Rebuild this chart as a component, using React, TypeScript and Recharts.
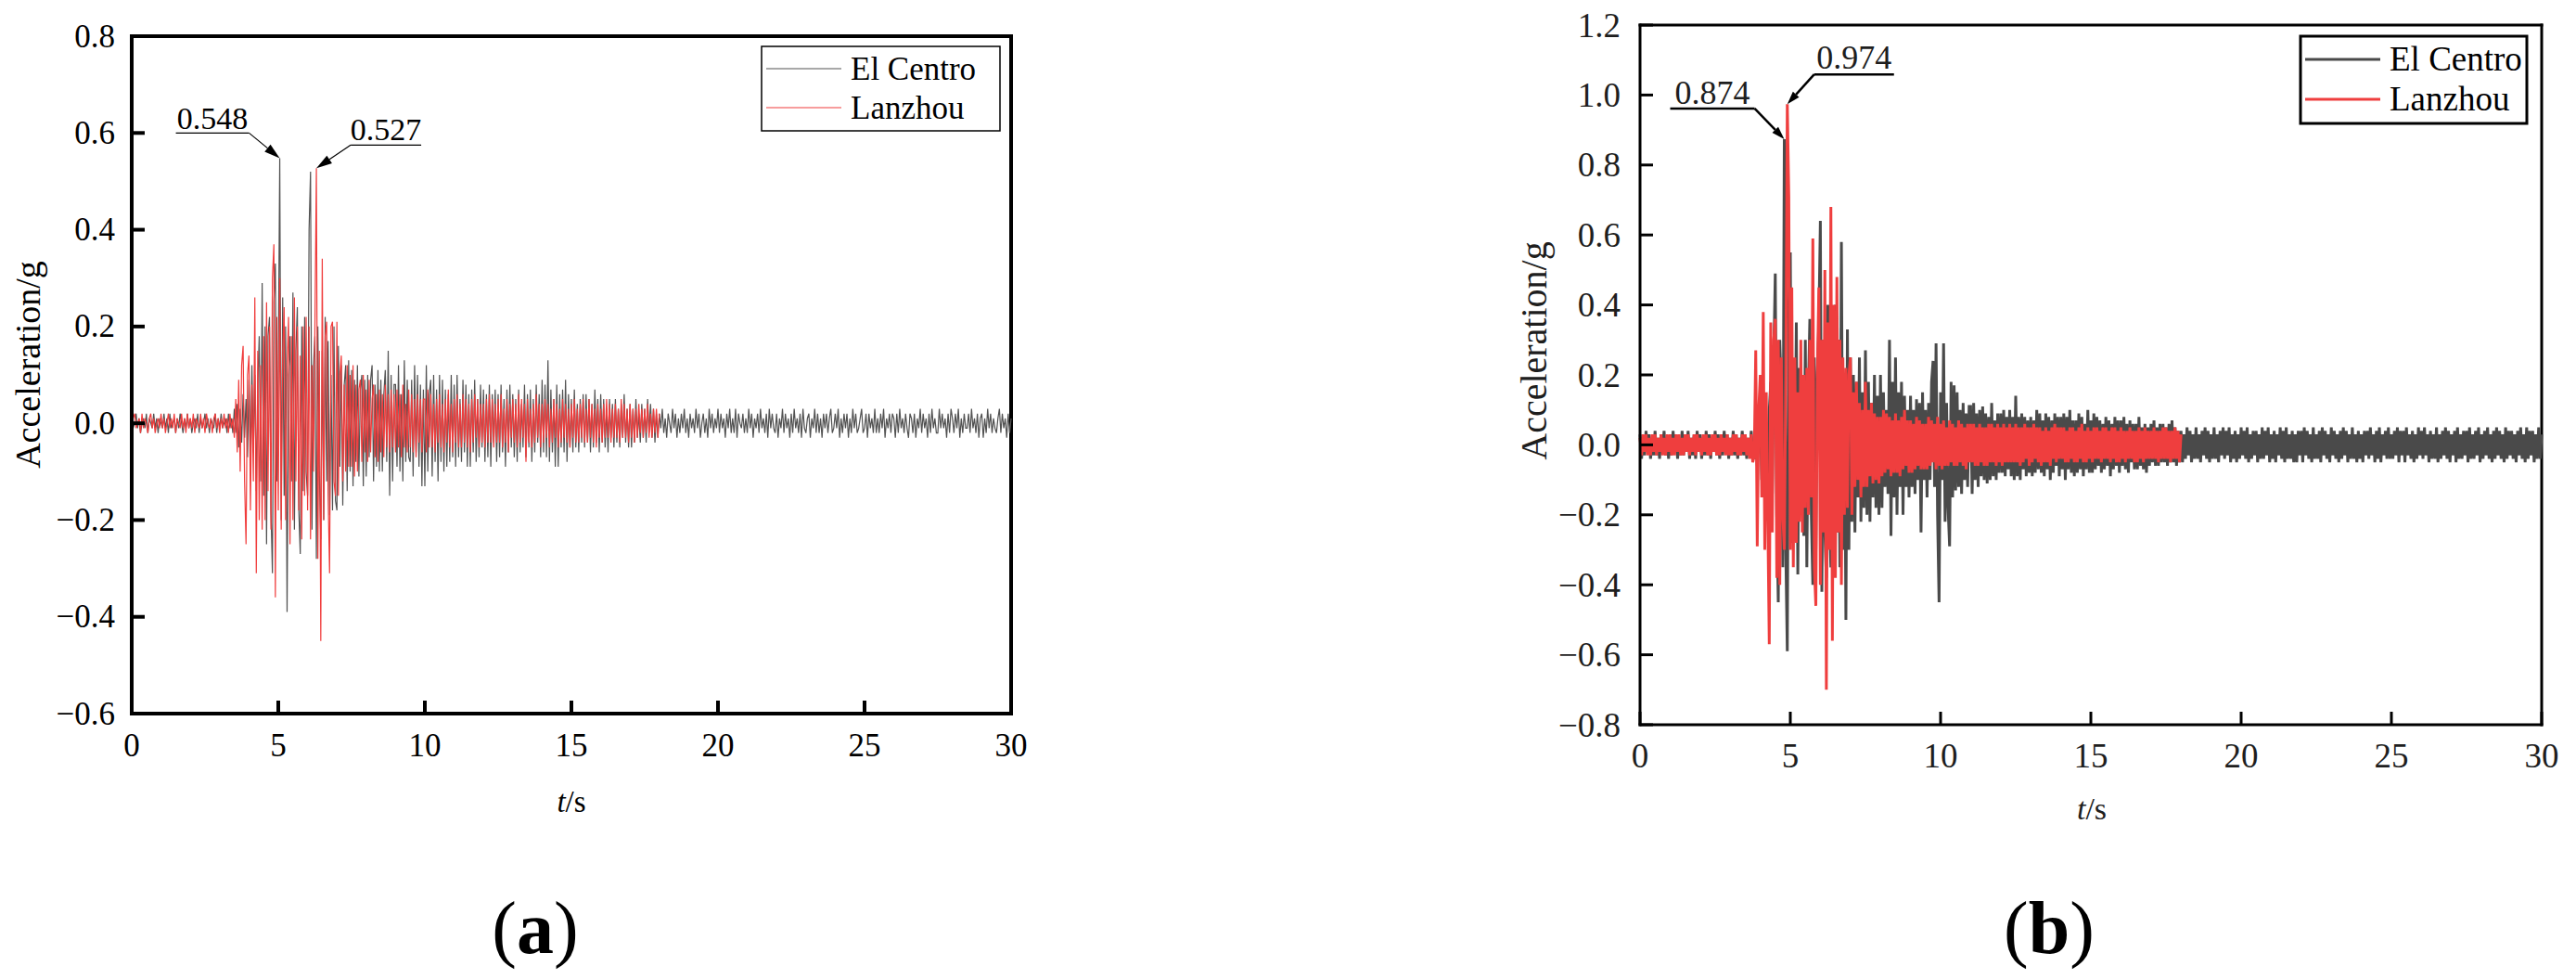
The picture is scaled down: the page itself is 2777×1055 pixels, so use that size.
import React from "react";
import { LineChart, Line, XAxis, YAxis, ReferenceLine, ReferenceDot } from "recharts";

const SERIF = "'Liberation Serif', 'Times New Roman', serif";
const DT = 0.05; // sampling step of the digitised records, s

// accelerations in hundredths of g, one value every 0.05 s
// (a) El Centro, 0 - 30 s
const elCentroA_quiet = [
  1, -1, 0, 2, -1, 1, -2, 0, 1, -1, 2, -2, 1, 0, -1, 2, -1, 1, -2, 1,
  0, -1, 2, -1, 1, -2, 2, -1, 0, 1, -2, 1, -1, 2, 0, -2, 1, -1, 2, -1,
  1, -2, 0, 1, -1, 2, -2, 1, -1, 0, 2, -1, 1, -2, 1, 0, -1, 2, -2, 1,
  -1, 2, -1, 0, 1, -2, 2, -1, 1, -2,
];
const elCentroA_strong = [
  3, -2, 4, -5, 3, -4, 6, -3, 5, -7,
  9, -8, 12, -6, 10, -14, 8, 18, -12, 29,
  -15, 20, -25, 18, 22, -18, -31, 25, 33, -12,
  12, 54.8, -20, 26, -15, 20, -39, 10, 18, -12,
  27, -22, 15, 24, -18, -27, 20, -14, 22, -10,
  -15, 40, 52, -22, 12, 18, -28, 20, -10, -24,
  15, -20, 22, -12, 17, -19, 10, -18, 20, -16,
  -18, 16, -9, 12, -17, 8, 12, -14, 13, -10,
  11, -13, 9, -8, 12, -11, 7, 10, -13, 9,
  -11, 10, -7, 9, 12, -12, 8, -9, 11, -10,
  9, -10, 6, 11, -8, 15, -15, 10, -12, 8,
  8, -9, 12, -10, 6, -12, 13, -8, 9, -7,
  -8, 9, -11, 12, -6, 10, -9, 8, -13, 7,
];
const elCentroA_coda = [
  -13, 12, -10, 6, 9, -11, 10, -8, 7, -12,
  10, -8, 9, -10, 7, -9, 6, -8, 10, -7,
  8, -9, 10, -7, 5, -8, 9, -6, 8, -9,
  6, -9, 7, -6, 9, -8, 5, -7, 8, -5,
  7, -8, 6, -7, 8, -9, 6, -4, 7, -8,
  6, -7, 8, -6, 5, -9, 7, -6, 8, -5,
  6, -7, 5, -8, 7, -6, 4, -5, 8, -7,
  6, -5, 7, -8, 5, -6, 8, -4, 6, -7,
  9, -6, 8, -7, 13, -8, 7, -6, 5, -9,
  8, -9, 6, -5, 7, -6, 9, -8, 6, -5,
  5, -6, 7, -5, 4, -6, 5, -4, 6, -5,
  6, -4, 5, -6, 4, -5, 7, -4, 5, -6,
  6, -4, 5, -5, 3, -6, 5, -3, 4, -5,
  5, -4, 3, -5, 4, -3, 6, -4, 3, -5,
  4, -5, 3, -4, 5, -3, 2, -4, 4, -3,
  3, -4, 5, -2, 4, -3, 3, -4, 2, -3,
];
const elCentroA_tail = [
  2, -1, 3, -2, 1, -3, 2, 0, -2, 3, -1, 2, -3, 1, -2, 2, -1, 3, -2, 1,
  -3, 2, -1, 1, -2, 3, -1, 2, -3, 0, 2, -2, 1, -3, 3, -1, 2, -2, 1, -1,
  3, -2, 2, -1, 1, -3, 2, -1, 3, -2, 1, -2, 3, -3, 2, 0, -1, 2, -2, 1,
  -2, 3, -1, 2, -3, 1, -1, 2, -2, 3, -1, 1, -2, 2, -3, 3, -1, 2, -1, -2,
  2, -3, 1, -1, 3, -2, 2, -1, 1, -3, 2, -2, 3, -1, 1, -2, 2, -3, 3, -1,
  -2, 1, 2, -3, 1, -1, 3, -2, 2, -2, 1, -3, 2, -1, 2, -2, 1, 3, -2, -1,
  2, -1, 3, -3, 1, -2, 2, -1, 2, -3, 1, -2, 3, -1, 2, -2, -1, 1, 3, -2,
  -1, 2, -3, 2, -1, 1, -2, 3, -2, 1, -2, 2, -1, 3, -3, 1, -1, 2, -2, 2,
  1, -3, 2, -2, 3, -1, 1, -2, 2, -1, -3, 2, 1, -2, 2, -3, 1, -1, 3, -2,
  2, -1, 1, -3, 2, -2, 3, -1, 1, -2, -2, 3, -1, 2, -1, 1, -3, 2, -2, 3,
  1, -2, 2, -1, 3, -3, 1, -2, 2, -1, -1, 2, -2, 3, -1, 1, -2, 2, -3, 1,
  2, -3, 1, -2, 3, -1, 2, -2, 1, -1, -2, 1, 3, -2, 2, -1, 1, -3, 2, -2,
  1,
];

// (a) Lanzhou, 0 - 18 s
const lanzhouA_quiet = [
  -1, 1, 2, -1, 0, 1, -2, 2, -1, 1, 0, -2, 1, 2, -1, 1, -2, 0, 1, -1,
  2, -1, 1, -2, 0, 2, -1, 1, -1, 2, -2, 1, 0, -1, 2, -1, 1, -2, 2, -1,
  1, -1, 2, -2, 1, 0, -1, 2, -1, 1, -2, 2, 0, -1, 1, -2, 1, 2, -1, 1,
  -2, 1, -1, 2, -1, 1, -2, 2, -1, 1,
];
const lanzhouA_strong = [
  -3, 5, -6, 9, -10, 12, 16, -12, -25, 10,
  14, -18, 8, -12, 26, -31, 15, -20, 12, -22,
  18, -20, 25, -14, 20, -22, 30, 37, -36, 22,
  -18, 30, -22, 15, 24, -20, 12, 22, -25, 18,
  -20, 26, -12, 20, -18, 14, -24, 20, -15, 22,
  -18, 20, -24, 12, -10, 20, 52.7, -28, 15, -45,
  34, -20, 18, 21, -15, -31, 20, 21, -12, -15,
  21, -15, 10, 14, -12, 8, -10, 12, -9, 10,
  -9, 12, -11, 8, -10, 7, 9, -8, 10, -6,
  7, -8, 9, -6, 5, 8, -7, 6, -8, 7,
  -6, 6, -7, 8, -5, 6, -6, 7, -5, 6,
  -6, 7, -5, 6, -7, 8, -5, 4, -6, 7,
  -5, 6, -6, 5, -7, 6, -4, 5, -6, 5,
];
const lanzhouA_coda = [
  5, -6, 7, -5, 6, -5, 4, -6, 5, -4,
  6, -5, 4, -6, 5, -4, 7, -5, 4, -6,
  5, -4, 6, -5, 4, -5, 6, -4, 5, -5,
  4, -6, 5, -4, 6, -3, 5, -5, 4, -4,
  4, -5, 5, -4, 6, -4, 5, -5, 4, -4,
  5, -4, 6, -5, 3, -4, 5, -6, 4, -3,
  5, -4, 4, -5, 6, -4, 5, -3, 4, -8,
  5, -4, 3, -5, 4, -4, 6, -3, 4, -5,
  4, -4, 5, -3, 4, -5, 3, -4, 5, -3,
  4, -5, 3, -4, 5, -3, 4, -4, 3, -5,
  4, -3, 5, -4, 3, -4, 4, -3, 5, -4,
  3, -4, 5, -3, 4, -4, 3, -5, 4, -3,
  3, -4, 4, -3, 5, -3, 4, -4, 3, -3,
  4, -3, 3, -4, 5, -3, 4, -3, 3, -4,
  4, -3, 3, -4, 3, -3, 4, -2, 3, -3,
  3, -2, 4, -3, 2, -3, 3, -2, 3, -3,
  2,
];

// (b) El Centro, 0 - 30 s
const elCentroB_quiet = [
  3, -4, 2, -3, 4, -2, 3, -4, 1, -3, 4, -3, 2, -4, 3, -2, 4, -3, 2, -4,
  3, -3, 4, -2, 3, -4, 2, -3, 4, -3, 3, -2, 4, -4, 2, -3, 3, -4, 4, -2,
  3, -4, 2, -3, 4, -3, 3, -4, 2, -2, 4, -3, 3, -4, 2, -3, 4, -2, 3, -4,
  2, -3, 4, -3, 3, -4, 2, -3, 4, -3,
];
const elCentroB_strong = [
  3, -4, 2, -3, 4, -3, -4, 5, -6, 4,
  8, -10, 6, 12, -8, -16, 10, 18, -14, 25,
  49, -20, -45, 30, 15, -35, 87.4, -30, -59, 40,
  55, -28, 20, -15, 35, -37, 22, -20, 18, -26,
  30, -35, 15, 36, -20, -40, 25, -30, 20, 35,
  64, -42, 30, -25, -38, 40, -20, -35, 25, -30,
  40, -25, 30, -35, 58, -30, 20, -50, 33, -30,
  25, -22, 20, -25, 18, -15, 25, -22, 15, -18,
  27, -20, 18, -22, 12, -15, 20, -18, 14, -20,
  20, -18, 15, -12, 10, -14, 30, -26, 18, -15,
  25, -20, 15, -12, 18, -20, 14, -12, 10, -15,
  14, -12, 10, -14, 13, -10, 12, -25, 15, -10,
  10, -15, 12, -10, 18, 24, -12, 29, -20, -45,
];
const elCentroB_coda = [
  15, -10, 29, -22, 12, -18, -29, 18, -15, 17,
  -13, 15, -12, 10, -14, 12, -10, 9, -12, 11,
  11, -14, 12, -10, 9, -12, 10, -9, 11, -10,
  9, -11, 8, -10, 12, -9, 7, -10, 9, -8,
  9, -8, 10, -9, 8, -7, 10, -9, 8, -10,
  14, -9, 8, -10, 9, -7, 8, -9, 7, -8,
  8, -9, 7, -8, 10, -7, 9, -8, 7, -9,
  9, -7, 8, -10, 7, -8, 9, -6, 8, -9,
  8, -7, 9, -10, 8, -7, 10, -8, 7, -9,
  7, -8, 9, -7, 8, -9, 6, -7, 10, -8,
  7, -8, 9, -7, 8, -6, 7, -8, 6, -7,
  8, -6, 7, -9, 6, -7, 8, -6, 7, -8,
  7, -6, 8, -7, 6, -8, 7, -5, 6, -7,
  6, -7, 8, -6, 5, -7, 6, -8, 5, -6,
  6, -5, 7, -6, 5, -6, 6, -5, 6, -5,
  5, -6, 6, -5, 7, -5, 5, -6, 4, -5,
];
const elCentroB_tail = [
  4, -5, 3, -4, 5, -3, 4, -5, 3, -4, 5, -4, 3, -5, 4, -3, 5, -4, 4, -5,
  3, -4, 5, -4, 3, -5, 4, -3, 5, -4, 4, -3, 5, -5, 3, -4, 4, -5, 3, -4,
  5, -3, 4, -4, 5, -5, 3, -4, 4, -3, 4, -5, 3, -4, 5, -4, 4, -3, 5, -5,
  3, -4, 4, -5, 3, -3, 5, -4, 4, -5, 5, -4, 3, -4, 4, -5, 3, -5, 4, -3,
  4, -5, 5, -3, 4, -4, 3, -5, 5, -4, 3, -4, 4, -5, 5, -3, 4, -4, 3, -5,
  5, -3, 4, -4, 3, -5, 4, -4, 5, -3, 4, -5, 3, -4, 5, -4, 3, -5, 4, -4,
  3, -5, 4, -3, 4, -4, 5, -3, 3, -5, 4, -4, 5, -5, 3, -3, 4, -4, 5, -4,
  3, -4, 4, -3, 5, -5, 4, -3, 4, -5, 5, -3, 3, -4, 4, -5, 3, -4, 5, -3,
  4, -4, 5, -3, 3, -5, 4, -4, 3, -4, 5, -5, 3, -4, 4, -3, 5, -4, 4, -5,
  3, -3, 4, -5, 5, -4, 3, -4, 4, -3, 4, -5, 5, -4, 3, -4, 4, -3, 5, -5,
  3, -4, 4, -3, 5, -4, 3, -5, 4, -4, 5, -3, 4, -4, 3, -5, 5, -4, 4, -3,
  4, -4, 3, -5, 4, -3, 5, -4, 3, -5, 5, -4, 4, -3, 4, -5, 3, -4, 5, -4,
  3,
];

// (b) Lanzhou, 0 - 18 s
const lanzhouB_quiet = [
  2, -3, 3, -2, 3, -3, 2, -3, 3, -2, 3, -3, 2, -2, 3, -3, 2, -3, 3, -2,
  3, -3, 2, -3, 3, -2, 3, -3, 2, -3, 3, -2, 3, -3, 2, -2, 3, -3, 3, -2,
  2, -3, 3, -2, 3, -3, 2, -3, 3, -2, 3, -3, 2, -3, 3, -2, 2, -3, 3, -3,
  2, -3, 3, -2, 3, -3, 2, -3, 3, -2,
];
const lanzhouB_strong = [
  3, -3, 2, -4, 3, -5, -3, 27, -29, 10,
  20, -15, 38, -30, 15, -20, -57, 35, -25, 30,
  36, -38, 30, -40, 25, -20, -30, 20, 97.4, 71,
  -30, 45, -35, 25, -28, 15, -22, 30, -25, 20,
  -18, 22, -20, 30, -15, 59, -35, -46, 20, 45,
  -40, 30, -25, 50, -70, 35, -30, 68, -56, 40,
  -38, 48, -25, 30, -40, 25, -20, 22, -18, 20,
  25, -20, 15, -12, 18, -10, 12, -15, 10, -12,
  18, -12, 10, -9, 12, -11, 9, -10, 8, -11,
  8, -9, 10, -8, 9, -7, 8, -9, 7, -8,
  9, -8, 7, -9, 8, -7, 10, -6, 7, -8,
  7, -8, 6, -7, 8, -6, 7, -7, 6, -7,
  6, -7, 8, -6, 7, -5, 6, -7, 8, -6,
];
const lanzhouB_coda = [
  6, -7, 7, -6, 5, -6, 7, -5, 6, -6,
  5, -6, 7, -5, 6, -6, 5, -7, 6, -5,
  6, -5, 6, -6, 5, -6, 6, -5, 5, -6,
  5, -6, 6, -5, 6, -5, 5, -6, 6, -5,
  5, -6, 6, -5, 5, -5, 6, -5, 5, -5,
  6, -5, 5, -6, 5, -5, 6, -4, 5, -6,
  5, -5, 6, -4, 5, -5, 5, -6, 4, -5,
  5, -5, 4, -6, 5, -4, 6, -5, 5, -4,
  5, -4, 5, -5, 4, -5, 5, -4, 5, -5,
  4, -5, 5, -4, 6, -5, 4, -5, 5, -4,
  4, -5, 5, -4, 5, -4, 4, -5, 5, -4,
  5, -4, 4, -5, 5, -4, 5, -5, 4, -5,
  5, -4, 4, -5, 4, -4, 5, -4, 4, -5,
  4, -5, 5, -4, 4, -5, 5, -4, 4, -4,
  4, -4, 5, -4, 4, -5, 4, -4, 5, -4,
  5, -4, 4, -5, 4, -4, 5, -4, 4, -5,
  3,
];

const xTicks = [0, 5, 10, 15, 20, 25, 30];
const yTicksA = [-0.6, -0.4, -0.2, 0, 0.2, 0.4, 0.6, 0.8];
const yTicksB = [-0.8, -0.6, -0.4, -0.2, 0, 0.2, 0.4, 0.6, 0.8, 1.0, 1.2];

type Pt = { t: number; a: number };

const toPoints = (...parts: number[][]): Pt[] =>
  parts.flat().map((v, i) => ({ t: Math.round(i * DT * 100) / 100, a: v / 100 }));

const peakOf = (pts: Pt[]) => pts.reduce((m, p) => (p.a > m.a ? p : m), pts[0]);

const fmtTick = (v: number) => (v < 0 ? "\u2212" : "") + Math.abs(v).toFixed(1);

type Callout = { side: "left" | "right"; lead: [number, number]; under: number; textDy: number };

const CalloutShape = ({ cx, cy, label, c, sw, head, size, color }: any) => {
  const dir = c.side === "left" ? -1 : 1;
  const sx = cx + dir * c.lead[0];
  const sy = cy - c.lead[1];
  const ex = sx + dir * c.under;
  const ang = Math.atan2(cy - sy, cx - sx);
  const bx = cx - head[0] * Math.cos(ang);
  const by = cy - head[0] * Math.sin(ang);
  const px = (-Math.sin(ang) * head[1]) / 2;
  const py = (Math.cos(ang) * head[1]) / 2;
  return (
    <g>
      <line x1={sx} y1={sy} x2={ex} y2={sy} stroke="#000" strokeWidth={sw} />
      <line x1={sx} y1={sy} x2={bx} y2={by} stroke="#000" strokeWidth={sw} />
      <polygon points={`${cx},${cy} ${bx + px},${by + py} ${bx - px},${by - py}`} fill="#000" />
      <text x={(sx + ex) / 2} y={sy - c.textDy} textAnchor="middle" fontSize={size} fill={color} fontFamily={SERIF}>
        {label}
      </text>
    </g>
  );
};

type Series = { name: string; color: string; points: Pt[]; callout: Callout };

type PanelProps = {
  left: number;
  width: number;
  margin: { top: number; right: number; bottom: number; left: number };
  yDomain: [number, number];
  yTicks: number[];
  series: Series[];
  lineWidth: number;
  axisWidth: number;
  labelSize: number;
  labelColor: string;
  labelGap: number;
  head: [number, number];
  calloutWidth: number;
};

const Panel = (p: PanelProps) => (
  <div style={{ position: "absolute", left: p.left, top: 0 }}>
    <LineChart width={p.width} height={1055} margin={p.margin}>
      <XAxis
        type="number"
        dataKey="t"
        domain={[0, 30]}
        ticks={xTicks}
        interval={0}
        height={40}
        tickSize={0}
        tickMargin={0}
        tickLine={false}
        axisLine={{ stroke: "#000", strokeWidth: p.axisWidth, strokeLinecap: "square" }}
        tick={(t: any) => (
          <g>
            <line x1={t.x} y1={t.y} x2={t.x} y2={t.y - 14} stroke="#000" strokeWidth={p.axisWidth} />
            <text x={t.x} y={t.y + 46} textAnchor="middle" fontSize={p.labelSize} fill={p.labelColor} fontFamily={SERIF}>
              {t.payload.value}
            </text>
          </g>
        )}
      />
      <YAxis
        type="number"
        domain={p.yDomain}
        ticks={p.yTicks}
        interval={0}
        width={60}
        tickSize={0}
        tickMargin={0}
        tickLine={false}
        axisLine={{ stroke: "#000", strokeWidth: p.axisWidth, strokeLinecap: "square" }}
        tick={(t: any) => (
          <g>
            <line x1={t.x} y1={t.y} x2={t.x + 14} y2={t.y} stroke="#000" strokeWidth={p.axisWidth} />
            <text
              x={t.x - p.labelGap}
              y={t.y}
              textAnchor="end"
              dominantBaseline="central"
              fontSize={p.labelSize}
              fill={p.labelColor}
              fontFamily={SERIF}
            >
              {fmtTick(t.payload.value)}
            </text>
          </g>
        )}
      />
      <ReferenceLine y={p.yDomain[1]} stroke="#000" strokeWidth={p.axisWidth} strokeLinecap="square" />
      <ReferenceLine x={30} stroke="#000" strokeWidth={p.axisWidth} strokeLinecap="square" />
      {p.series.map((s) => (
        <Line
          key={s.name}
          data={s.points}
          dataKey="a"
          name={s.name}
          type="linear"
          stroke={s.color}
          strokeWidth={p.lineWidth}
          dot={false}
          activeDot={false}
          isAnimationActive={false}
        />
      ))}
      {p.series.map((s) => {
        const pk = peakOf(s.points);
        return (
          <ReferenceDot
            key={s.name + "-peak"}
            x={pk.t}
            y={pk.a}
            shape={(d: any) => (
              <CalloutShape
                cx={d.cx}
                cy={d.cy}
                label={pk.a.toFixed(3)}
                c={s.callout}
                sw={p.calloutWidth}
                head={p.head}
                size={p.labelSize - 1}
                color={p.labelColor}
              />
            )}
          />
        );
      })}
    </LineChart>
  </div>
);

const seriesA: Series[] = [
  {
    name: "El Centro",
    color: "#525252",
    points: toPoints(elCentroA_quiet, elCentroA_strong, elCentroA_coda, elCentroA_tail),
    callout: { side: "left", lead: [33, 27], under: 79, textDy: 4 },
  },
  {
    name: "Lanzhou",
    color: "#f03c3c",
    points: toPoints(lanzhouA_quiet, lanzhouA_strong, lanzhouA_coda),
    callout: { side: "right", lead: [37, 25], under: 76, textDy: 5 },
  },
];

const seriesB: Series[] = [
  {
    name: "El Centro",
    color: "#4a4a4a",
    points: toPoints(elCentroB_quiet, elCentroB_strong, elCentroB_coda, elCentroB_tail),
    callout: { side: "left", lead: [32, 33], under: 91, textDy: 5 },
  },
  {
    name: "Lanzhou",
    color: "#ef3e3e",
    points: toPoints(lanzhouB_quiet, lanzhouB_strong, lanzhouB_coda),
    callout: { side: "right", lead: [29, 32], under: 86, textDy: 6 },
  },
];

const LegendBox = ({ x, y, w, h, border, lineW, rows, size, series }: any) => (
  <g>
    <rect x={x} y={y} width={w} height={h} fill="#fff" stroke="#000" strokeWidth={border} />
    {series.map((s: Series, i: number) => (
      <g key={s.name}>
        <line x1={x + 5} y1={rows[i]} x2={x + 86} y2={rows[i]} stroke={s.color} strokeWidth={lineW} />
        <text x={x + 96} y={rows[i] + 12} fontSize={size} fontFamily={SERIF} fill="#000">
          {s.name}
        </text>
      </g>
    ))}
  </g>
);

export default function App() {
  return (
    <div style={{ position: "absolute", left: 0, top: 0, width: 2777, height: 1055, background: "#fff", fontFamily: SERIF }}>
      <Panel
        left={0}
        width={1200}
        margin={{ top: 39, right: 110, bottom: 246, left: 82 }}
        yDomain={[-0.6, 0.8]}
        yTicks={yTicksA}
        series={seriesA}
        lineWidth={1.2}
        axisWidth={4}
        labelSize={35}
        labelColor="#000"
        labelGap={18}
        head={[17, 10]}
        calloutWidth={1.2}
      />
      <Panel
        left={1400}
        width={1377}
        margin={{ top: 27, right: 37, bottom: 234, left: 308 }}
        yDomain={[-0.8, 1.2]}
        yTicks={yTicksB}
        series={seriesB}
        lineWidth={3}
        axisWidth={3}
        labelSize={37}
        labelColor="#1e1e1e"
        labelGap={21}
        head={[14, 9]}
        calloutWidth={2.5}
      />
      <svg width={2777} height={1055} style={{ position: "absolute", left: 0, top: 0, pointerEvents: "none" }}>
        <LegendBox x={821} y={50} w={257} h={91} border={1.5} lineW={1.2} rows={[74, 116]} size={35} series={seriesA} />
        <LegendBox x={2480} y={39} w={244} h={94} border={3} lineW={3} rows={[64, 107]} size={37} series={seriesB} />

        <text x={43} y={393} transform="rotate(-90 43 393)" textAnchor="middle" fontSize={38} fontFamily={SERIF} fill="#000">
          Acceleration/g
        </text>
        <text x={1667} y={378} transform="rotate(-90 1667 378)" textAnchor="middle" fontSize={40} fontFamily={SERIF} fill="#1e1e1e">
          Acceleration/g
        </text>

        <text x={616} y={875} textAnchor="middle" fontSize={33} fontFamily={SERIF} fill="#000">
          <tspan fontStyle="italic">t</tspan>/s
        </text>
        <text x={2255} y={883} textAnchor="middle" fontSize={34} fontFamily={SERIF} fill="#1e1e1e">
          <tspan fontStyle="italic">t</tspan>/s
        </text>

        <text x={577} y={1027} textAnchor="middle" fontSize={80} fontFamily={SERIF} fill="#000">
          (<tspan fontWeight="bold">a</tspan>)
        </text>
        <text x={2209} y={1027} textAnchor="middle" fontSize={80} fontFamily={SERIF} fill="#000">
          (<tspan fontWeight="bold">b</tspan>)
        </text>
      </svg>
    </div>
  );
}
